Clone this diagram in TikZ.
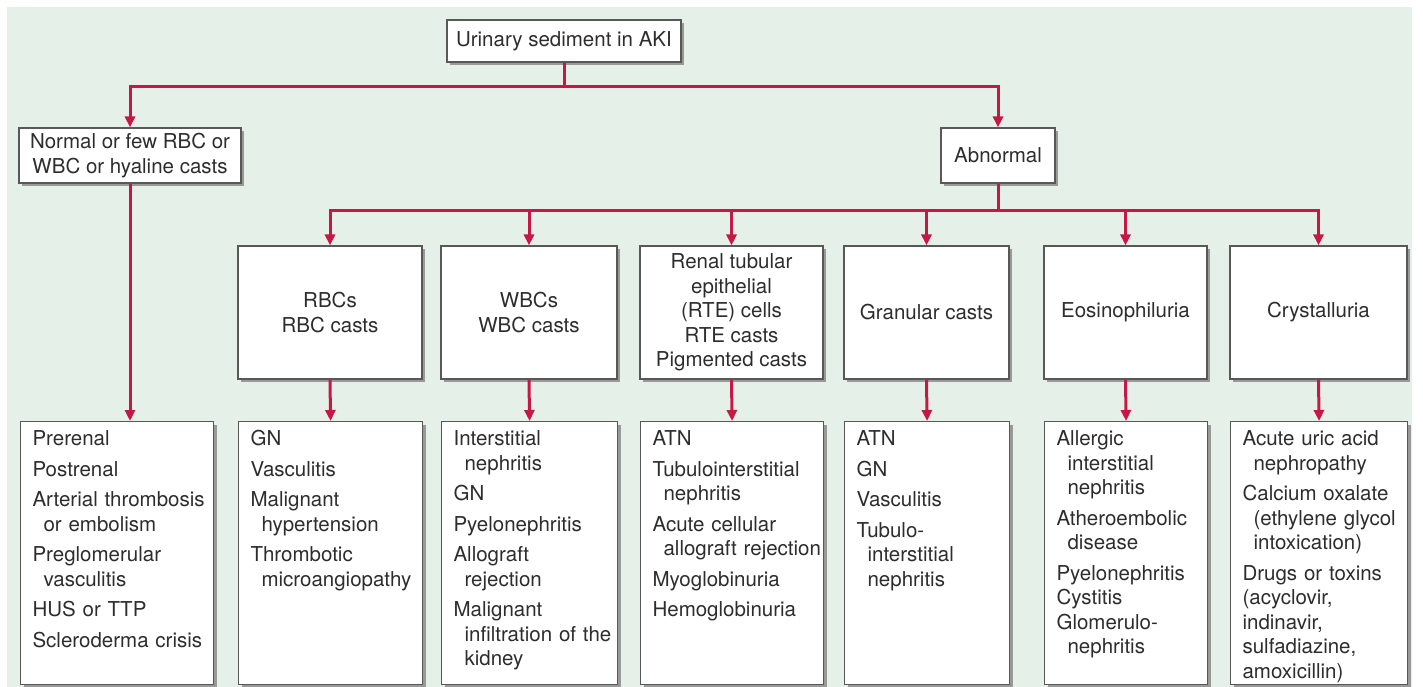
\documentclass[tikz,border=0pt]{standalone}
\usepackage{fontspec}
\setmainfont{TeX Gyre Heros}
\usetikzlibrary{arrows.meta,shadows}

\definecolor{bgmint}{RGB}{229,240,232}
\definecolor{akired}{RGB}{198,24,70}
\definecolor{boxline}{RGB}{88,88,88}
\definecolor{inktext}{RGB}{45,45,45}

\newcommand\itemlist[1]{\begin{tabular}[t]{@{}l@{}}#1\end{tabular}}
\newcommand\subline{\hspace*{11pt}}

\tikzstyle{every node}=[font=\fontsize{20.5}{24.5}\selectfont,text=inktext]
\tikzstyle{box}=[draw=boxline,line width=1.1pt,fill=white,inner sep=0pt,align=center,
  general shadow={fill=black!40,shadow xshift=3pt,shadow yshift=-3pt}]
\tikzstyle{listbox}=[box,anchor=north west,align=left,inner xsep=12pt,inner ysep=8pt,
  text height=16pt,text depth=231pt]
\tikzstyle{link}=[draw=akired,line width=3pt]
\tikzstyle{arr}=[link,-{Triangle[length=11pt,width=10pt]}]

\begin{document}
\begin{tikzpicture}[x=1pt,y=-1pt]
  \useasboundingbox (0,0) rectangle (1423,687);
  \fill[bgmint] (7,7) rectangle (1412,687);

  % first split
  \node[box,minimum width=234pt,minimum height=42pt] (root) at (564,41) {Urinary sediment in AKI};
  \node[box,minimum width=222pt,minimum height=55pt] (normal) at (130,155.5) {Normal or few RBC or\\WBC or hyaline casts};
  \node[box,minimum width=114pt,minimum height=55pt] (abnormal) at (998,155.5) {Abnormal};
  \coordinate (split) at (564,87);
  \coordinate (fan) at (998,210);

  % findings
  \node[box,minimum width=184pt,minimum height=133pt] (rbc) at (330,312.5) {RBCs\\RBC casts};
  \node[box,minimum width=176pt,minimum height=133pt] (wbc) at (529,312.5) {WBCs\\WBC casts};
  \node[box,minimum width=183pt,minimum height=133pt] (rte) at (731.5,312.5) {Renal tubular\\epithelial\\(RTE) cells\\RTE casts\\Pigmented casts};
  \node[box,minimum width=165pt,minimum height=133pt] (granular) at (926.5,312.5) {Granular casts};
  \node[box,minimum width=163pt,minimum height=133pt] (eosino) at (1125.5,312.5) {Eosinophiluria};
  \node[box,minimum width=177pt,minimum height=133pt] (crystal) at (1318.5,312.5) {Crystalluria};

  % causes
  \node[listbox,text width=169pt] (normcause) at (20,421) {\itemlist{Prerenal\\[6pt]
    Postrenal\\[6pt]
    Arterial thrombosis\\ \subline or embolism\\[6pt]
    Preglomerular\\ \subline vasculitis\\[6pt]
    HUS or TTP\\[6pt]
    Scleroderma crisis}};
  \node[listbox,text width=160pt] (rbccause) at (238,421) {\itemlist{GN\\[6pt]
    Vasculitis\\[6pt]
    Malignant\\ \subline hypertension\\[6pt]
    Thrombotic\\ \subline microangiopathy}};
  \node[listbox,text width=152pt] (wbccause) at (441,421) {\itemlist{Interstitial\\ \subline nephritis\\[6pt]
    GN\\[6pt]
    Pyelonephritis\\[6pt]
    Allograft\\ \subline rejection\\[6pt]
    Malignant\\ \subline infiltration of the\\ \subline kidney}};
  \node[listbox,text width=159pt] (rtecause) at (640,421) {\itemlist{ATN\\[6pt]
    Tubulointerstitial\\ \subline nephritis\\[6pt]
    Acute cellular\\ \subline allograft rejection\\[6pt]
    Myoglobinuria\\[6pt]
    Hemoglobinuria}};
  \node[listbox,text width=141pt] (grancause) at (844,421) {\itemlist{ATN\\[6pt]
    GN\\[6pt]
    Vasculitis\\[6pt]
    Tubulo-\\ \subline interstitial\\ \subline nephritis}};
  \node[listbox,text width=139pt] (eocause) at (1044,421) {\itemlist{Allergic\\ \subline interstitial\\ \subline nephritis\\[6pt]
    Atheroembolic\\ \subline disease\\[6pt]
    Pyelonephritis\\
    Cystitis\\
    Glomerulo-\\ \subline nephritis}};
  \node[listbox,text width=153pt] (crycause) at (1230,421) {\itemlist{Acute uric acid\\ \subline nephropathy\\[6pt]
    Calcium oxalate\\ \subline (ethylene glycol\\ \subline intoxication)\\[6pt]
    Drugs or toxins\\
    (acyclovir,\\
    indinavir,\\
    sulfadiazine,\\
    amoxicillin)}};

  % connectors
  \draw[link] (root.south) -- (split);
  \draw[arr] (split) -| (normal.north);
  \draw[arr] (split) -| (abnormal.north);
  \draw[arr] (normal.south) -- (normal.south |- normcause.north);
  \draw[link] (abnormal.south) -- (fan);
  \foreach \f/\c in {rbc/rbccause,wbc/wbccause,rte/rtecause,granular/grancause,eosino/eocause,crystal/crycause}{
    \draw[arr] (fan) -| (\f.north);
    \draw[arr] (\f.south) -- (\c.north);
  }
\end{tikzpicture}
\end{document}
